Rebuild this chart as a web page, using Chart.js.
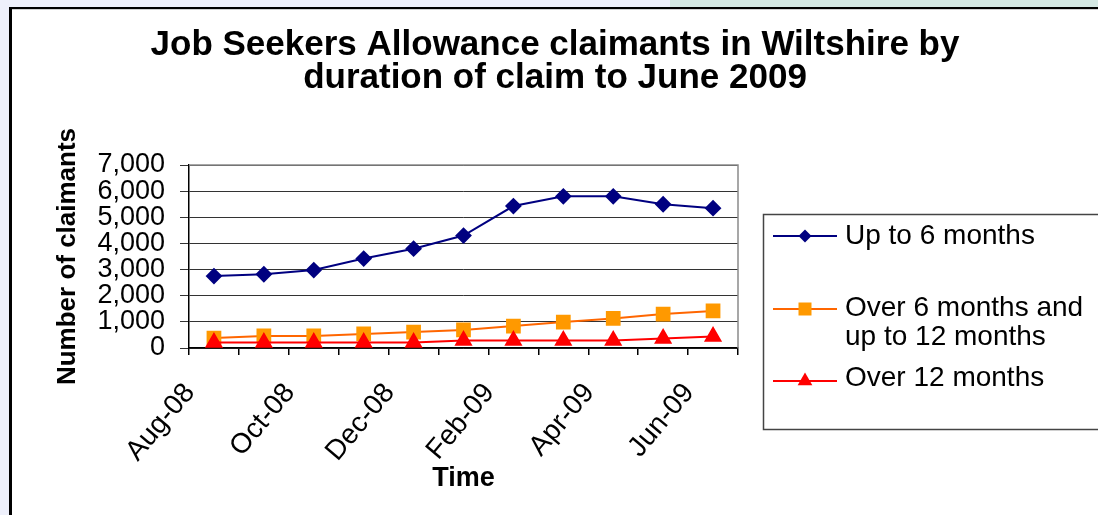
<!DOCTYPE html>
<html><head><meta charset="utf-8">
<script src="https://cdn.jsdelivr.net/npm/chart.js@4.4.1/dist/chart.umd.min.js"></script>
<style>
html,body{margin:0;padding:0;background:#fff;width:1098px;height:515px;overflow:hidden;position:relative}
#stripL{position:absolute;left:0;top:0;width:9px;height:515px;background:#eef0fb}
#stripT1{position:absolute;left:0;top:0;width:670px;height:7px;background:#eef0fb}
#stripT2{position:absolute;left:670px;top:0;width:428px;height:7px;background:#d4e8e3}
#frame{position:absolute;left:9px;top:7px;width:1089px;height:508px;border-left:3px solid #000;border-top:2px solid #000;box-sizing:border-box}
#frame2{position:absolute;left:12px;top:9px;width:1086px;height:1px;background:#d0d0d0}
canvas{position:absolute;left:0;top:0}
</style></head>
<body>
<div id="stripL"></div><div id="stripT1"></div><div id="stripT2"></div><div id="frame"></div><div id="frame2"></div>
<canvas id="c" width="1098" height="515"></canvas>
<script>
// ---- data ----
const months = ['Aug-08','Sep-08','Oct-08','Nov-08','Dec-08','Jan-09','Feb-09','Mar-09','Apr-09','May-09','Jun-09'];
const upTo6Months = [2750, 2820, 2980, 3420, 3800, 4300, 5430, 5800, 5800, 5500, 5350];
const over6To12Months = [380, 460, 460, 540, 610, 690, 840, 990, 1130, 1300, 1420];
const over12Months = [210, 210, 210, 210, 215, 290, 290, 285, 290, 360, 440];
const seriesNames = ['Up to 6 months', 'Over 6 months and up to 12 months', 'Over 12 months'];
const legendLines = [['Up to 6 months'], ['Over 6 months and', 'up to 12 months'], ['Over 12 months']];
const titleLines = ['Job Seekers Allowance claimants in Wiltshire by', 'duration of claim to June 2009'];
const yAxisTitle = 'Number of claimants';
const xAxisTitle = 'Time';
const yMin = 0, yMax = 7000, yStep = 1000;

Chart.defaults.font.family = '"Liberation Sans", Arial, sans-serif';
Chart.defaults.color = '#000';

function markerPath(ctx, style, x, y, r) {
  ctx.beginPath();
  if (style === 'rectRot') {
    ctx.moveTo(x, y - r); ctx.lineTo(x + r, y); ctx.lineTo(x, y + r); ctx.lineTo(x - r, y);
  } else if (style === 'rect') {
    ctx.rect(x - r, y - r, 2 * r, 2 * r);
  } else {
    ctx.moveTo(x, y - r); ctx.lineTo(x + 0.866 * r, y + 0.5 * r); ctx.lineTo(x - 0.866 * r, y + 0.5 * r);
  }
  ctx.closePath();
}

const framePlugin = {
  id: 'plotFrame',
  beforeDatasetsDraw(chart) {
    const {ctx, chartArea: a} = chart;
    ctx.save();
    ctx.strokeStyle = '#8a8a8a';
    ctx.lineWidth = 1.5;
    ctx.beginPath();
    ctx.moveTo(a.left, a.top); ctx.lineTo(a.right, a.top); ctx.lineTo(a.right, a.bottom);
    ctx.stroke();
    ctx.restore();
  }
};

const legendPlugin = {
  id: 'boxLegend',
  afterDraw(chart) {
    const ctx = chart.ctx;
    const box = {x: 763.5, y: 214.5, w: 400, h: 215};
    const rows = [{line: 236, text: [236]}, {line: 309, text: [308, 337]}, {line: 381, text: [378]}];
    const msize = [6.5, 6.5, 8.5];
    ctx.save();
    ctx.strokeStyle = '#444';
    ctx.lineWidth = 1.5;
    ctx.strokeRect(box.x, box.y, box.w, box.h);
    chart.data.datasets.forEach((ds, i) => {
      const r = rows[i];
      ctx.strokeStyle = ds.borderColor; ctx.lineWidth = 2;
      ctx.beginPath(); ctx.moveTo(773, r.line); ctx.lineTo(837, r.line); ctx.stroke();
      ctx.fillStyle = ds.pointBackgroundColor;
      markerPath(ctx, ds.pointStyle, 805, r.line, msize[i]);
      ctx.fill();
      ctx.fillStyle = '#000';
      ctx.font = '28px "Liberation Sans", Arial, sans-serif';
      ctx.textBaseline = 'middle'; ctx.textAlign = 'left';
      legendLines[i].forEach((t, k) => ctx.fillText(t, 845, r.text[k]));
    });
    ctx.restore();
  }
};

new Chart(document.getElementById('c'), {
  type: 'line',
  data: {
    labels: months,
    datasets: [
      {label: seriesNames[0], data: upTo6Months, borderColor: '#000080', backgroundColor: '#000080',
       pointBackgroundColor: '#000080', pointBorderColor: '#000080', pointStyle: 'rectRot', pointRadius: 7,
       borderWidth: 2, tension: 0, order: 0},
      {label: seriesNames[1], data: over6To12Months, borderColor: '#FF6600', backgroundColor: '#FF9900',
       pointBackgroundColor: '#FF9900', pointBorderColor: '#FF9900', pointStyle: 'rect', pointRadius: 9,
       borderWidth: 2, tension: 0, order: 2},
      {label: seriesNames[2], data: over12Months, borderColor: '#FF0000', backgroundColor: '#FF0000',
       pointBackgroundColor: '#FF0000', pointBorderColor: '#FF0000', pointStyle: 'triangle', pointRadius: 8.5,
       borderWidth: 2, tension: 0, order: 1}
    ]
  },
  options: {
    responsive: false,
    devicePixelRatio: 1,
    animation: false,
    layout: {padding: {left: 12, top: 10, right: 0, bottom: 0}},
    plugins: {
      legend: {display: false},
      tooltip: {enabled: false},
      title: {
        display: true, text: titleLines, color: '#000',
        font: {size: 35, weight: 'bold', lineHeight: '33px'},
        padding: {top: 19, bottom: 70}
      }
    },
    scales: {
      x: {
        type: 'category', offset: true,
        grid: {offset: true, drawOnChartArea: false, drawTicks: true, tickLength: 7, color: '#000', lineWidth: 1.5},
        border: {display: true, color: '#000', width: 1.5},
        ticks: {
          autoSkip: false, minRotation: 50, maxRotation: 50, padding: 22, labelOffset: -24,
          font: {size: 28}, color: '#000',
          callback: function (v, i) { return i % 2 === 0 ? this.getLabelForValue(v) : ''; }
        },
        title: {display: true, text: xAxisTitle, font: {size: 27, weight: 'bold'}, padding: {top: 0, bottom: 20}},
        afterFit(s) { s.height = 167; }
      },
      y: {
        position: 'left', min: yMin, max: yMax,
        grid: {color: '#333', lineWidth: 1, tickLength: 9, drawTicks: true},
        border: {display: true, color: '#000', width: 1.5},
        ticks: {stepSize: yStep, autoSkip: false, padding: 15, font: {size: 27, lineHeight: 1}, color: '#000',
                callback: v => Number(v).toLocaleString('en-US')},
        title: {display: true, text: yAxisTitle, font: {size: 26, weight: 'bold'}, padding: {top: 40, bottom: 0}},
        afterFit(s) { s.width = 177; }
      },
      yLegendSpace: {
        type: 'linear', position: 'right', display: true,
        grid: {display: false}, border: {display: false}, ticks: {display: false},
        afterFit(s) { s.width = 360; }
      }
    }
  },
  plugins: [framePlugin, legendPlugin]
});
</script>
</body></html>
